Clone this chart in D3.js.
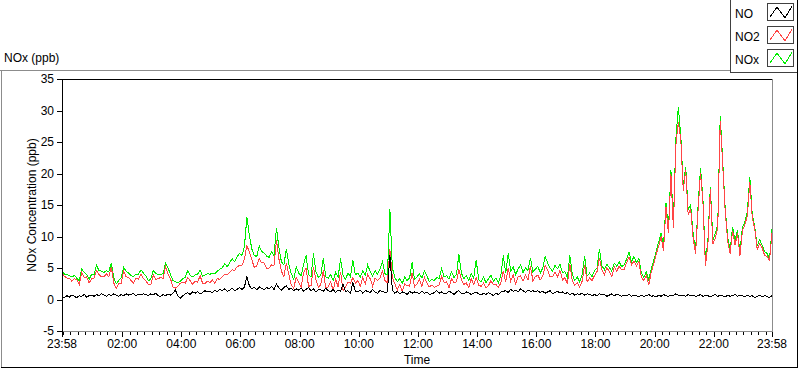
<!DOCTYPE html>
<html lang="en">
<head>
<meta charset="UTF-8">
<title>NOx (ppb)</title>
<script src="https://cdnjs.cloudflare.com/ajax/libs/d3/7.8.5/d3.min.js"></script>
<style>
body { margin: 0; background: #fff; }
svg text { font: 12px "Liberation Sans", Arial, sans-serif; fill: #000; }
.series { fill: none; stroke-width: 1px; shape-rendering: crispEdges; }
.tick { stroke: #000; shape-rendering: crispEdges; }
</style>
</head>
<body>
<svg id="chart" width="800" height="369"></svg>
<script>
// one reading every 5 minutes, from 23:58 to 23:58 the next day
const stepMinutes = 5;

const noxValues = [
  4.6,4.0,4.0,3.8,3.6,3.8,3.4,3.0,4.8,4.3,4.0,3.2,
  4.0,3.9,5.4,4.6,4.5,4.3,4.6,4.4,5.8,3.5,2.5,3.0,
  3.4,5.1,4.5,4.2,3.8,3.6,4.0,4.0,4.7,4.2,3.8,3.0,
  3.2,4.6,4.2,3.9,4.0,4.1,5.8,5.0,4.0,3.0,2.8,2.7,
  2.9,3.3,3.5,4.6,3.8,3.6,3.9,4.0,4.7,3.7,3.9,4.1,
  4.0,4.2,4.1,4.5,4.8,5.0,5.7,5.2,5.8,6.5,6.0,6.8,
  7.3,7.0,8.4,13.1,10.2,8.0,7.0,6.8,8.5,7.6,7.4,6.9,
  6.7,7.6,7.0,11.3,8.2,6.0,5.5,8.0,5.6,4.1,3.2,5.2,
  4.2,3.8,5.5,7.0,4.0,3.6,7.3,4.4,3.5,3.9,6.5,3.6,
  3.4,4.0,3.0,4.3,3.5,6.5,3.8,3.2,4.2,3.6,6.2,3.9,
  4.2,3.6,4.5,3.9,5.5,4.4,3.7,4.6,4.0,4.8,6.0,4.1,
  3.8,14.3,5.0,3.5,2.8,3.3,2.5,3.6,3.0,3.4,5.9,3.2,
  3.6,4.1,3.4,4.5,3.8,2.8,3.2,3.0,3.5,3.3,4.9,3.6,
  3.8,3.2,4.4,3.5,4.0,7.2,4.2,3.3,3.8,3.0,4.1,3.4,
  6.3,3.2,2.8,3.6,2.6,3.3,3.9,2.9,3.4,2.7,3.8,7.0,
  4.2,7.3,4.5,5.2,4.0,4.8,5.5,4.3,5.0,4.6,6.6,4.4,
  4.8,5.3,4.2,5.0,6.8,5.8,5.0,4.5,5.4,4.9,5.6,4.3,
  4.4,3.5,7.0,4.0,3.0,3.6,2.8,3.9,6.9,3.7,4.2,3.6,
  4.6,5.0,8.0,5.4,4.7,5.6,5.1,4.5,5.8,5.3,6.0,5.2,
  5.5,6.4,7.6,6.0,6.8,5.9,6.5,4.2,3.5,4.4,3.1,4.8,
  6.2,7.6,9.1,10.5,8.5,15.3,11.0,20.6,12.0,25.4,30.5,26.0,
  18.0,21.1,14.2,15.0,10.5,7.8,14.7,20.9,15.8,6.0,9.4,17.9,
  9.4,10.5,11.9,29.1,22.0,14.5,10.0,7.8,11.5,9.4,11.0,7.6,
  11.5,12.3,14.0,19.5,13.5,11.5,8.5,9.5,8.6,7.6,7.3,6.5,
  11.2
];

const no2Values = [
  4.1,3.7,3.4,3.4,2.9,3.3,3.1,2.4,4.3,3.5,3.6,2.6,
  3.3,3.4,4.6,4.0,3.6,3.6,4.1,3.6,5.2,2.6,1.8,2.5,
  2.6,4.5,3.6,3.5,3.0,2.6,3.4,3.2,4.0,3.3,3.0,2.4,
  2.3,3.9,3.2,3.3,3.5,3.3,5.2,4.1,3.3,2.0,1.8,2.1,
  2.6,2.7,2.6,3.5,3.0,2.4,2.9,2.7,3.8,2.6,2.5,2.9,
  2.7,3.1,2.6,3.3,3.2,3.6,4.0,3.9,4.3,4.7,4.6,5.2,
  5.4,5.4,6.4,8.6,7.5,6.3,5.1,5.3,6.5,5.8,5.8,5.0,
  5.0,5.5,5.4,9.4,6.4,4.5,3.6,5.8,4.0,2.3,1.8,3.5,
  2.7,2.0,4.2,5.0,2.1,2.2,5.2,3.2,1.9,2.4,4.6,1.8,
  2.0,2.8,1.4,3.2,2.0,4.4,1.4,2.0,2.8,2.6,3.5,2.6,
  3.0,2.1,3.5,2.5,4.0,3.3,2.1,3.4,3.0,3.4,4.5,3.0,
  2.6,8.0,3.5,2.5,1.5,2.4,1.3,2.5,2.2,2.1,4.2,2.0,
  2.5,3.2,2.1,3.5,2.6,2.0,2.3,1.9,2.1,2.3,3.7,2.7,
  2.8,1.9,3.3,2.7,2.8,4.8,3.2,2.4,2.6,1.9,3.3,2.4,
  3.5,2.3,2.1,2.6,1.8,2.2,3.0,2.3,2.4,1.9,2.6,4.5,
  2.8,5.0,2.9,3.9,2.5,3.6,3.8,2.9,3.9,3.1,5.3,3.0,
  3.6,3.9,3.1,3.7,5.4,4.6,3.6,3.6,4.3,3.6,4.6,3.1,
  3.5,2.4,5.6,3.0,2.3,2.7,2.0,2.9,5.5,2.8,3.4,3.0,
  3.8,4.4,6.6,4.7,3.9,5.1,4.4,3.6,5.2,4.5,5.3,4.7,
  4.8,5.8,6.8,5.5,6.1,5.3,6.1,3.5,3.0,3.8,2.3,4.3,
  5.6,7.2,8.4,10.0,7.7,14.7,10.5,19.9,11.4,24.5,28.2,25.4,
  17.3,20.6,13.4,14.4,9.8,7.3,14.1,20.1,15.3,5.3,8.8,17.5,
  8.8,9.7,11.4,28.4,21.4,14.1,9.3,7.3,10.9,8.6,10.5,6.9,
  10.9,11.9,13.3,18.6,13.0,11.2,8.0,8.8,8.2,7.0,6.8,6.2,
  10.6
];

const noValues = [
  0.5,0.3,0.6,0.4,0.7,0.5,0.3,0.6,0.5,0.8,0.4,0.6,
  0.7,0.5,0.8,0.6,0.9,0.7,0.5,0.8,0.6,0.9,0.7,0.5,
  0.8,0.6,0.9,0.7,0.8,1.0,0.6,0.8,0.7,0.9,0.8,0.6,
  0.9,0.7,1.0,0.6,0.5,0.8,0.6,0.9,0.7,1.0,1.5,0.6,
  0.2,0.6,0.9,1.1,0.8,1.2,1.0,1.3,0.9,1.1,1.4,1.2,
  1.3,1.1,1.5,1.2,1.6,1.4,1.7,1.3,1.5,1.8,1.4,1.6,
  1.9,1.6,2.0,3.6,2.2,1.7,1.9,1.5,2.0,1.8,1.6,1.9,
  1.7,2.1,1.6,2.5,1.8,1.5,1.9,2.2,1.6,1.8,1.4,1.7,
  1.5,1.8,1.3,1.6,1.9,1.4,1.7,1.2,1.6,1.5,1.3,1.8,
  1.4,1.2,1.6,1.1,1.5,1.3,2.4,1.2,1.4,1.0,2.7,1.3,
  1.2,1.5,1.0,1.4,1.3,1.1,1.6,1.2,1.0,1.4,1.3,1.1,
  1.2,7.0,1.5,1.0,1.3,0.9,1.2,1.1,0.8,1.3,1.0,1.2,
  1.1,0.9,1.3,1.0,1.2,0.8,0.9,1.1,1.4,1.0,1.2,0.9,
  1.0,1.3,1.1,0.8,1.2,1.4,1.0,0.9,1.2,1.1,0.8,1.0,
  1.2,0.9,0.7,1.0,0.8,1.1,0.9,0.6,1.0,0.8,1.2,1.3,
  1.4,1.1,1.6,1.3,1.5,1.2,1.7,1.4,1.1,1.5,1.3,1.4,
  1.2,1.4,1.1,1.3,1.0,1.2,1.4,0.9,1.1,1.3,1.0,1.2,
  0.9,1.1,0.8,1.0,0.7,0.9,0.8,1.0,0.7,0.9,0.8,0.6,
  0.8,0.6,0.9,0.7,0.8,0.5,0.7,0.9,0.6,0.8,0.7,0.5,
  0.7,0.6,0.8,0.5,0.7,0.6,0.4,0.7,0.5,0.6,0.8,0.5,
  0.6,0.4,0.7,0.5,0.8,0.6,0.5,0.7,0.6,0.9,0.7,0.6,
  0.7,0.5,0.8,0.6,0.7,0.5,0.6,0.8,0.5,0.7,0.6,0.4,
  0.6,0.8,0.5,0.7,0.6,0.4,0.7,0.5,0.6,0.8,0.5,0.7,
  0.6,0.4,0.7,0.5,0.6,0.3,0.5,0.7,0.4,0.6,0.5,0.3,
  0.6
];

const seriesNames = ["NO", "NO2", "NOx"];
const xTickLabels = ["23:58", "02:00", "04:00", "06:00", "08:00", "10:00", "12:00",
                     "14:00", "16:00", "18:00", "20:00", "22:00", "23:58"];
const yTicks = [-5, 0, 5, 10, 15, 20, 25, 30, 35];

const colors = { "NO": "#000000", "NO2": "#ff4545", "NOx": "#00ee00" };

const startTime = new Date(2000, 0, 1, 23, 58);
const endTime = new Date(2000, 0, 2, 23, 58);

const margin = { left: 62, top: 79, right: 772, bottom: 331 };

const svg = d3.select("#chart");

const x = d3.scaleTime().domain([startTime, endTime]).range([margin.left, margin.right]);
const y = d3.scaleLinear().domain([-5, 35]).range([margin.bottom, margin.top]);

// outer panel, 3D-ish border like the original front panel
svg.append("line").attr("x1", 0).attr("x2", 730).attr("y1", 70.5).attr("y2", 70.5)
  .attr("stroke", "#8c8c8c");
svg.append("line").attr("x1", 1.5).attr("x2", 1.5).attr("y1", 70).attr("y2", 368)
  .attr("stroke", "#8c8c8c");
svg.append("line").attr("x1", 1).attr("x2", 798).attr("y1", 367.5).attr("y2", 367.5)
  .attr("stroke", "#000");
svg.append("line").attr("x1", 797.5).attr("x2", 797.5).attr("y1", 72).attr("y2", 368)
  .attr("stroke", "#000");

svg.append("text").attr("x", 4).attr("y", 62).text("NOx (ppb)");

// plot frame
svg.append("line").attr("x1", margin.left).attr("x2", margin.right)
  .attr("y1", margin.top + 0.5).attr("y2", margin.top + 0.5).attr("stroke", "#000");
svg.append("line").attr("x1", margin.right + 0.5).attr("x2", margin.right + 0.5)
  .attr("y1", margin.top).attr("y2", margin.bottom + 1).attr("stroke", "#8c8c8c");
svg.append("line").attr("x1", margin.left).attr("x2", margin.right + 1)
  .attr("y1", margin.bottom + 0.5).attr("y2", margin.bottom + 0.5).attr("stroke", "#8c8c8c");
svg.append("line").attr("x1", margin.left + 0.5).attr("x2", margin.left + 0.5)
  .attr("y1", margin.top).attr("y2", margin.bottom + 1).attr("stroke", "#000");

// y axis
const yAxis = svg.append("g");
yAxis.selectAll("line").data(yTicks).join("line")
  .attr("class", "tick")
  .attr("x1", margin.left - 5).attr("x2", margin.left)
  .attr("y1", d => Math.round(y(d)) + 0.5).attr("y2", d => Math.round(y(d)) + 0.5);
yAxis.selectAll("text").data(yTicks).join("text")
  .attr("x", margin.left - 8).attr("y", d => y(d) + 4)
  .attr("text-anchor", "end").text(d => d);

svg.append("text")
  .attr("transform", `translate(36,${(margin.top + margin.bottom) / 2}) rotate(-90)`)
  .attr("text-anchor", "middle").text("NOx Concentration (ppb)");

// x axis
const parseTime = d3.timeParse("%H:%M");
const majorTimes = xTickLabels.map((s, i) => {
  if (i === 0) return startTime;
  if (i === xTickLabels.length - 1) return endTime;
  const p = parseTime(s);
  return new Date(2000, 0, 2, p.getHours(), p.getMinutes());
});
const minorTimes = d3.timeMinute.every(15).range(startTime, endTime);

const xAxis = svg.append("g");
xAxis.selectAll("line.minor").data(minorTimes).join("line")
  .attr("class", "tick minor")
  .attr("x1", d => Math.round(x(d)) + 0.5).attr("x2", d => Math.round(x(d)) + 0.5)
  .attr("y1", margin.bottom + 1).attr("y2", margin.bottom + 4);
xAxis.selectAll("line.major").data(majorTimes).join("line")
  .attr("class", "tick major")
  .attr("x1", d => Math.round(x(d)) + 0.5).attr("x2", d => Math.round(x(d)) + 0.5)
  .attr("y1", margin.bottom + 1).attr("y2", margin.bottom + 6);
xAxis.selectAll("text").data(majorTimes).join("text")
  .attr("x", d => x(d)).attr("y", margin.bottom + 17)
  .attr("text-anchor", "middle").text((d, i) => xTickLabels[i]);

svg.append("text").attr("x", (margin.left + margin.right) / 2).attr("y", 364)
  .attr("text-anchor", "middle").text("Time");

// series
svg.append("clipPath").attr("id", "plotClip").append("rect")
  .attr("x", margin.left + 1).attr("y", margin.top + 1)
  .attr("width", margin.right - margin.left - 1).attr("height", margin.bottom - margin.top - 1);

const timeAt = i => d3.timeMinute.offset(startTime, i * stepMinutes);
const line = d3.line().x((d, i) => x(timeAt(i))).y(d => y(d));

const seriesData = { "NO": noValues, "NO2": no2Values, "NOx": noxValues };
const plot = svg.append("g").attr("clip-path", "url(#plotClip)");
["NOx", "NO2", "NO"].forEach(name => {
  plot.append("path").attr("class", "series")
    .attr("stroke", colors[name])
    .attr("d", line(seriesData[name]));
});

// legend
const legend = svg.append("g");
legend.append("line").attr("x1", 730.5).attr("x2", 730.5).attr("y1", 0).attr("y2", 72)
  .attr("stroke", "#404040");
legend.append("line").attr("x1", 730).attr("x2", 798).attr("y1", 72.5).attr("y2", 72.5)
  .attr("stroke", "#404040");
legend.append("line").attr("x1", 797.5).attr("x2", 797.5).attr("y1", 0).attr("y2", 73)
  .attr("stroke", "#000");

const iconLine = d3.line();
const iconShape = [[3, 14], [10, 4], [18, 15], [25, 3]];
const rows = legend.selectAll("g.row").data(seriesNames).join("g")
  .attr("class", "row")
  .attr("transform", (d, i) => `translate(0,${i * 23})`);
rows.append("text").attr("x", 735).attr("y", 18).text(d => d);
rows.append("rect").attr("x", 767.5).attr("y", 3.5).attr("width", 26).attr("height", 17)
  .attr("fill", "#fff").attr("stroke", "#404040");
rows.append("path").attr("class", "series")
  .attr("transform", "translate(767,3)")
  .attr("stroke", d => colors[d])
  .attr("d", iconLine(iconShape));
</script>
</body>
</html>
